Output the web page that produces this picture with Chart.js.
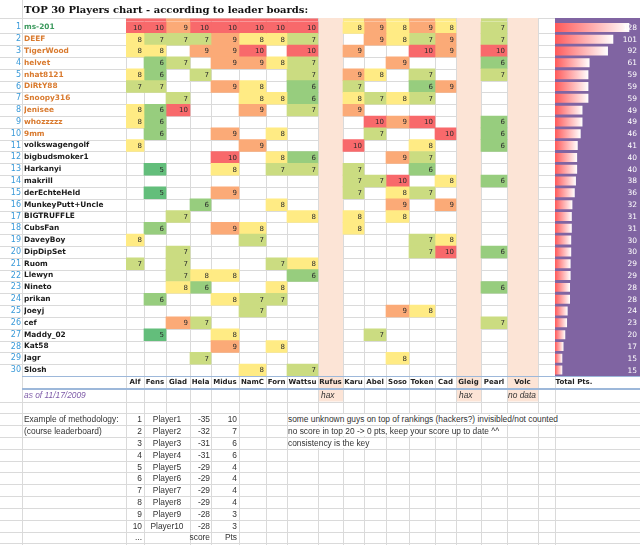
<!DOCTYPE html>
<html>
<head>
<meta charset="utf-8">
<title>TOP 30 Players chart</title>
<script src="https://cdn.jsdelivr.net/npm/chart.js@4.4.1/dist/chart.umd.min.js"></script>
<style>
  html, body { margin: 0; padding: 0; background: #fff; }
  #sheet { position: relative; width: 640px; height: 545px; overflow: hidden; }
  #playersChart { position: absolute; left: 0; top: 0; }
  .txt { position: absolute; white-space: nowrap; font-family: "Liberation Sans", Arial, sans-serif; font-size: 8.4px; line-height: 10px; height: 10px; color: #333; z-index: 2; }
  .title { left: 24px; top: 3px; font: bold 10px "DejaVu Serif", serif; line-height: 13px; height: 13px; color: #111; }
  .asof { color: #7E5BA8; font-style: italic; }
  .it { font-style: italic; }
  .note { background: #fff; padding-right: 2px; }
</style>
</head>
<body>
<div id="sheet">
  <canvas id="playersChart" width="640" height="545"></canvas>
  <div class="txt title">TOP 30 Players chart - according to leader boards:</div>
  <div class="txt asof" style="left:24px;top:390px">as of 11/17/2009</div>
  <div class="txt it" style="left:321px;top:390px">hax</div>
  <div class="txt it" style="left:459px;top:390px">hax</div>
  <div class="txt it" style="left:508px;top:390px">no data</div>
  <div id="method"></div>
</div>

<script>
    // players, top to bottom
    const players = ['ms-201', 'DEEF', 'TigerWood', 'helvet', 'nhat8121', 'DiRtY88', 'Snoopy316', 'Jenisee', 'whozzzzz', '9mm',
        'volkswagengolf', 'bigbudsmoker1', 'Harkanyi', 'makrill', 'derEchteHeld', 'MunkeyPutt+Uncle', 'BIGTRUFFLE', 'CubsFan', 'DaveyBoy', 'DipDipSet',
        'Ruom', 'Llewyn', 'Nineto', 'prikan', 'Joeyj', 'cef', 'Maddy_02', 'Kat58', 'Jagr', 'Slosh']
    const rowNums = players.map((p, i) => String(i + 1))
    const totals = [128, 101, 92, 61, 59, 59, 59, 49, 49, 46, 41, 40, 40, 38, 36, 32, 31, 31, 30, 30, 29, 29, 28, 28, 24, 23, 20, 17, 15, 15]

    // points per course (null = not in top 20)
    const n = null
    const alf    = [10, 8, 8, n, 8, 7, n, 8, 8, n, 8, n, n, n, n, n, n, n, 8, n, 7, n, n, n, n, n, n, n, n, n]
    const fens   = [10, 7, 8, 6, 6, 7, n, 6, 6, 6, n, n, 5, n, 5, n, n, 6, n, n, n, n, n, 6, n, n, 5, n, n, n]
    const glad   = [9, 7, n, 7, n, n, 7, 10, n, n, n, n, n, n, n, n, 7, n, n, 7, 7, 7, 8, n, n, 9, n, n, n, n]
    const hela   = [10, 7, 9, n, 7, n, n, n, n, n, n, n, n, n, n, 6, n, n, n, n, n, 8, 6, n, n, 7, n, n, 7, n]
    const midus  = [10, 9, 9, 9, n, 9, n, n, n, 9, n, 10, 8, n, 9, n, n, 9, n, n, n, 8, n, 8, n, n, 8, 9, n, n]
    const namc   = [10, 8, 10, 9, n, 8, 8, 9, n, n, 9, n, n, n, n, n, n, 8, 7, n, n, n, n, 7, 7, n, n, n, n, 8]
    const forn   = [10, 8, n, 8, n, n, 8, n, n, 8, n, 8, 7, n, n, 8, n, n, n, n, 7, n, 8, 7, n, n, n, 8, n, n]
    const wattsu = [10, 7, 10, 7, 7, 6, 6, 7, n, n, n, 6, 7, n, n, n, 8, n, n, n, 8, 6, n, n, n, n, n, n, n, 7]
    const karu   = [8, n, 9, n, 9, 7, 8, 9, n, n, 10, n, 7, 7, 7, n, 8, 8, n, n, n, n, n, n, n, n, n, n, n, n]
    const abel   = [9, 9, n, n, 8, n, 7, n, 10, 7, n, n, n, 7, n, n, n, n, n, n, n, n, n, n, n, n, 7, n, n, n]
    const soso   = [8, 8, n, 9, n, n, 8, n, 9, n, n, 9, n, 10, 8, 9, 8, n, n, n, n, n, n, n, 9, n, n, n, 8, n]
    const token  = [9, 7, 10, n, 7, 6, 7, n, 10, n, 8, 7, 6, n, 7, n, n, n, 7, 7, n, n, n, n, 8, n, n, n, n, n]
    const cad    = [8, 9, 9, n, n, 9, n, n, n, 10, n, n, n, 8, n, 9, n, n, 8, 10, n, n, n, n, n, n, n, n, n, n]
    const pearl  = [7, 7, 10, 6, 7, n, n, n, 6, 6, 6, n, n, 6, n, n, n, n, n, 6, n, n, 6, n, n, 7, n, n, n, n]

    const headers = ['Alf', 'Fens', 'Glad', 'Hela', 'Midus', 'NamC', 'Forn', 'Wattsu', 'Rufus', 'Karu', 'Abel',
        'Soso', 'Token', 'Cad', 'Gleig', 'Pearl', 'Volc', '', 'Total Pts.']
    const scoreByHeader = { Alf: alf, Fens: fens, Glad: glad, Hela: hela, Midus: midus, NamC: namc, Forn: forn,
        Wattsu: wattsu, Karu: karu, Abel: abel, Soso: soso, Token: token, Cad: cad, Pearl: pearl }
    const peachCols = ['Rufus', 'Gleig', 'Volc']

    // methodology example under the table
    const methodRank = [1, 2, 3, 4, 5, 6, 7, 8, 9, 10]
    const methodPlayer = ['Player1', 'Player2', 'Player3', 'Player4', 'Player5', 'Player6', 'Player7', 'Player8', 'Player9', 'Player10']
    const methodScore = [-35, -32, -31, -31, -29, -29, -29, -29, -28, -28]
    const methodPts = [10, 7, 6, 6, 4, 4, 4, 4, 3, 3]
    const notes = ['some unknown guys on top of rankings (hackers?) invisibled/not counted',
        'no score in top 20 -> 0 pts, keep your score up to date ^^',
        'consistency is the key']

    // sheet layout (pixels)
    const colEdges = [126, 144, 166, 190, 211, 239, 266, 287, 318, 343, 364, 386, 409, 435, 456, 481, 507, 538, 555, 640]
    const totalZero = 553.4, totalPx = 0.593
    const sheetRowH = 11.82

    function heatColor(v) {
        const map = { 5: '#63BE7B', 6: '#97CD7E', 7: '#CBDC81', 8: '#FFEB84', 9: '#FBAA77', 10: '#F8696B' }
        return map[v] || 'rgba(0,0,0,0)'
    }

    function totalGradient(ctx) {
        const chart = ctx.chart
        if (!chart.chartArea) return '#FF5A5A'
        const xs = chart.scales.x
        const x0 = xs.getPixelForValue(colEdges[18])
        const x1 = xs.getPixelForValue(totalZero + totals[ctx.dataIndex] * totalPx)
        const g = chart.ctx.createLinearGradient(x0, 0, x1, 0)
        g.addColorStop(0, '#FF5A5A')
        g.addColorStop(1, '#FFFFFF')
        return g
    }

    let datasets = []
    headers.forEach((h, i) => {
        const vals = scoreByHeader[h]
        if (!vals) return
        datasets.push({
            label: h,
            data: vals.map(v => v == null ? null : [colEdges[i], colEdges[i + 1]]),
            backgroundColor: ctx => heatColor(vals[ctx.dataIndex]),
            borderWidth: 0,
            grouped: false,
            barPercentage: 1,
            categoryPercentage: 1
        })
    })
    datasets.push({
        label: 'Total Pts.',
        data: totals.map(t => [colEdges[18], totalZero + t * totalPx]),
        backgroundColor: totalGradient,
        borderWidth: 0,
        grouped: false,
        barPercentage: 0.76,
        categoryPercentage: 1
    })

    const sheetPlugin = {
        id: 'sheet',
        beforeDraw(chart) {
            const c = chart.ctx, x = chart.scales.x, y = chart.scales.y
            const W = chart.width, H = chart.height
            const px = v => Math.round(x.getPixelForValue(v))
            const band = y.getPixelForValue(1) - y.getPixelForValue(0)
            const top = 18, bottom = chart.chartArea.bottom
            c.save()
            c.fillStyle = '#fff'
            c.fillRect(0, 0, W, H)
            c.strokeStyle = '#DADADA'
            c.lineWidth = 1
            c.beginPath()
            // horizontal cell lines
            let rows = [top]
            for (let i = 1; i < players.length; i++) rows.push(y.getPixelForValue(i) - band / 2)
            for (let yy = 401.5; yy < H; yy += sheetRowH) rows.push(yy)
            rows.forEach(r => { c.moveTo(0, Math.round(r) + 0.5); c.lineTo(W, Math.round(r) + 0.5) })
            // vertical cell lines
            c.moveTo(22.5, 0); c.lineTo(22.5, H)
            colEdges.forEach(e => {
                const xx = px(e) + 0.5
                c.moveTo(xx, top)
                c.lineTo(xx, e === 166 ? 413 : H)
            })
            c.stroke()
            // coloured columns
            c.fillStyle = '#FCE4D6'
            peachCols.forEach(h => {
                const i = headers.indexOf(h)
                c.fillRect(px(colEdges[i]) + 1, top, px(colEdges[i + 1]) - px(colEdges[i]) - 1, 401.5 - top)
            })
            c.fillStyle = '#8064A2'
            c.fillRect(px(colEdges[18]), top, px(colEdges[19]) - px(colEdges[18]), bottom - top)
            // header borders
            c.strokeStyle = '#9DB8DA'
            c.beginPath()
            c.moveTo(22, Math.round(bottom) + 0.5); c.lineTo(W, Math.round(bottom) + 0.5)
            c.stroke()
            c.lineWidth = 2
            c.beginPath()
            c.moveTo(22, 389); c.lineTo(W, 389)
            c.stroke()
            c.restore()
        },
        afterDatasetsDraw(chart) {
            const c = chart.ctx, x = chart.scales.x
            c.save()
            c.textBaseline = 'middle'
            c.textAlign = 'right'
            chart.data.datasets.forEach((ds, di) => {
                const meta = chart.getDatasetMeta(di)
                const vals = scoreByHeader[ds.label]
                meta.data.forEach((el, i) => {
                    if (ds.data[i] == null) return
                    if (vals) {
                        // first row is a bit taller in the sheet
                        if (i === 0) {
                            c.fillStyle = heatColor(vals[0])
                            const t = el.y - el.height / 2
                            c.fillRect(el.base, 18.5, el.x - el.base, t - 18.5)
                        }
                        c.fillStyle = '#2B2B2B'
                        c.font = '7px "DejaVu Sans"'
                        c.fillText(vals[i], el.x - 2, el.y + 0.5)
                    } else {
                        c.fillStyle = '#FFFFFF'
                        c.font = '7.5px "DejaVu Sans"'
                        c.fillText(totals[i], x.getPixelForValue(637), el.y + 0.5)
                    }
                })
            })
            c.restore()
        }
    }

    const axisFont = { family: 'DejaVu Sans', size: 7.4, weight: 'bold' }
    const noGrid = { display: false, drawTicks: false, tickLength: 0 }
    new Chart(document.getElementById('playersChart'), {
        type: 'bar',
        data: { labels: players, datasets: datasets },
        options: {
            indexAxis: 'y',
            responsive: false,
            animation: false,
            events: [],
            layout: { padding: { top: 21.5, bottom: 156, left: 0, right: 0 } },
            plugins: { legend: { display: false }, tooltip: { enabled: false } },
            scales: {
                x: {
                    type: 'linear',
                    position: 'bottom',
                    min: colEdges[0],
                    max: colEdges[colEdges.length - 1],
                    bounds: 'data',
                    grid: noGrid,
                    border: { display: false },
                    afterBuildTicks: s => {
                        s.ticks = headers.map((h, i) => ({
                            value: h === 'Total Pts.' ? colEdges[i] + 19 : (colEdges[i] + colEdges[i + 1]) / 2
                        }))
                    },
                    afterFit: s => { s.height = 13 },
                    ticks: {
                        autoSkip: false,
                        maxRotation: 0,
                        padding: 2,
                        color: '#222',
                        font: { family: 'DejaVu Sans', size: 7, weight: 'bold' },
                        callback: (v, i) => headers[i]
                    }
                },
                y: {
                    type: 'category',
                    position: 'left',
                    weight: 0,
                    offset: true,
                    grid: noGrid,
                    border: { display: false },
                    afterFit: s => { s.width = 102 },
                    ticks: {
                        autoSkip: false,
                        crossAlign: 'far',
                        font: axisFont,
                        color: ctx => ctx.index === 0 ? '#3D9A5E' : (ctx.index < 10 ? '#D97A2E' : '#1A1A1A')
                    }
                },
                yNum: {
                    type: 'category',
                    labels: rowNums,
                    position: 'left',
                    weight: 1,
                    offset: true,
                    grid: noGrid,
                    border: { display: false },
                    afterFit: s => { s.width = 24 },
                    ticks: {
                        autoSkip: false,
                        padding: 3,
                        color: '#3A9AD9',
                        font: { family: 'DejaVu Sans', size: 8 }
                    }
                }
            }
        },
        plugins: [sheetPlugin]
    })

    // methodology block
    function cell(text, left, width, top, align, cls) {
        return `<div class="txt ${cls || ''}" style="left:${left}px;top:${top}px;width:${width}px;text-align:${align}">${text}</div>`
    }
    let content = ''
    const rowTop = k => (419.2 + k * sheetRowH - 5).toFixed(1)
    content += cell('Example of methodology:', 24, 100, rowTop(0), 'left')
    content += cell('(course leaderboard)', 24, 100, rowTop(1), 'left')
    for (let k = 0; k < methodRank.length; k++) {
        content += cell(methodRank[k], 120, 22, rowTop(k), 'right')
        content += cell(methodPlayer[k], 144, 46, rowTop(k), 'center')
        content += cell(methodScore[k], 188, 22, rowTop(k), 'right')
        content += cell(methodPts[k], 211, 26, rowTop(k), 'right')
    }
    content += cell('...', 120, 22, rowTop(10), 'right')
    content += cell('score', 188, 22, rowTop(10), 'right')
    content += cell('Pts', 211, 26, rowTop(10), 'right')
    notes.forEach((t, k) => {
        content += `<div class="txt note" style="left:288px;top:${rowTop(k)}px">${t.replace('>', '&gt;')}</div>`
    })
    document.getElementById('method').innerHTML = content
</script>
</body>
</html>
